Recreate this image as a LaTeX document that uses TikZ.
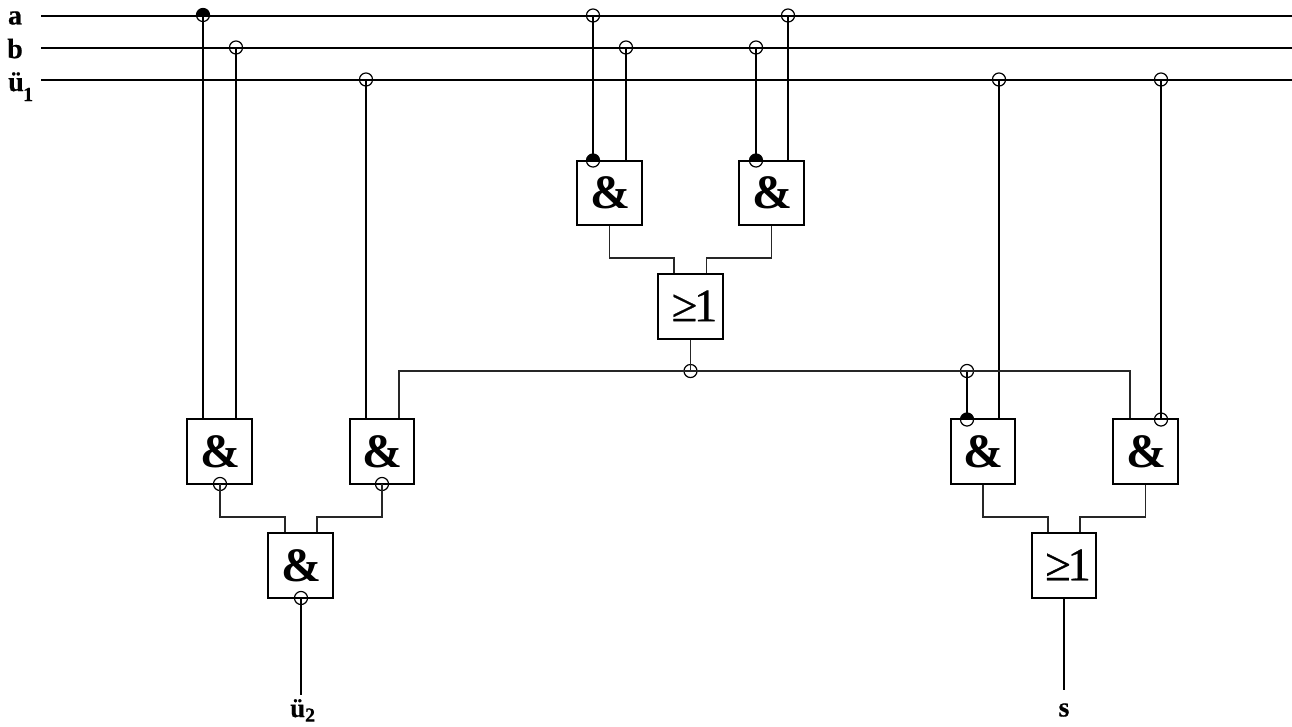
\documentclass[tikz,border=0pt]{standalone}
\usepackage{fontspec}
\setmainfont{Liberation Serif}
\newfontfamily\heavyserif[FakeBold=0.6]{Liberation Serif}
\newfontfamily\heavybold[FakeBold=0.5]{Liberation Serif Bold}
\newcommand{\ampsign}{\raisebox{-1.5pt}{\kern1pt\fontsize{36}{36}\selectfont\&}}
\newcommand{\geone}{\raisebox{1pt}{\kern6pt\heavyserif\fontsize{35}{35}\selectfont ≥\kern-2.5pt 1}}
\tikzset{
  thickw/.style={line width=1.5pt,black},
  thinw/.style={line width=1pt,black!85},
  gate/.style={draw,line width=1.4pt,rectangle,minimum width=48.6pt,minimum height=48.6pt,inner sep=0pt,font=\bfseries},
  orgate/.style={gate,font=\normalfont},
  inv/.style={draw,circle,line width=0.9pt,minimum size=9.8pt,inner sep=0pt},
  halfinv/.style={inv,path picture={\fill[black] (path picture bounding box.west) rectangle (path picture bounding box.north east);}},
  lbl/.style={font=\heavybold\fontsize{21}{21}\selectfont,inner sep=0pt}
}
\begin{document}
\begin{tikzpicture}[x=0.75pt,y=-0.75pt]
\useasboundingbox (0,0) rectangle (1292,726);
% gates
\node[gate] (g1) at (609.5,193) {\ampsign};
\node[gate] (g2) at (771.5,193) {\ampsign};
\node[orgate] (o1) at (690.5,306.5) {\geone};
\node[gate] (g3) at (219.5,451.5) {\ampsign};
\node[gate] (g4) at (382,451.5) {\ampsign};
\node[gate] (g5) at (300.5,565.5) {\ampsign};
\node[gate] (g6) at (983,451.5) {\ampsign};
\node[gate] (g7) at (1145.5,451.5) {\ampsign};
\node[orgate] (o2) at (1064,565.5) {\geone};
% bus ends
\coordinate (aL) at (41,15.5); \coordinate (aR) at (1292,15.5);
\coordinate (bL) at (41,47.5); \coordinate (bR) at (1292,47.5);
\coordinate (uL) at (41,79.5); \coordinate (uR) at (1292,79.5);
\draw[thickw] (aL) -- (aR);
\draw[thickw] (bL) -- (bR);
\draw[thickw] (uL) -- (uR);
% bus junctions
\node[halfinv] (ja1) at (203,15) {};
\node[inv] (jb1) at (236,47.5) {};
\node[inv] (ju1) at (366,79.5) {};
\node[inv] (ja2) at (593,15.5) {};
\node[inv] (jb2) at (626,47.5) {};
\node[inv] (jb3) at (756,47.5) {};
\node[inv] (ja3) at (788,15.5) {};
\node[inv] (ju2) at (999,79.5) {};
\node[inv] (ju3) at (1161,79.5) {};
% inputs with bubbles
\node[halfinv] (i1) at (593,160.5) {};
\node[halfinv] (i2) at (756,160.5) {};
\node[halfinv] (i6) at (967,419.5) {};
\node[inv] (i7) at (1161,419.5) {};
\node[inv] (n3) at (220,484) {};
\node[inv] (n4) at (382,484) {};
\node[inv] (n5) at (301,598) {};
\node[inv] (jm) at (690.5,371) {};
\node[inv] (jm2) at (967,371) {};
% labels
\node[lbl] (la) at (15,18) {a};
\node[lbl] (lb) at (15,48.5) {b};
\node[lbl,anchor=base west] (lu) at (8,91) {ü\raisebox{-7.5pt}{\fontsize{15}{15}\selectfont\kern-0.5pt 1}};
\node[lbl,anchor=base west] (lu2) at (290,717) {\fontsize{20}{20}\selectfont ü\raisebox{-3.5pt}{\fontsize{15}{15}\selectfont 2}};
\node[lbl] (ls) at (1064,710) {s};
\coordinate (endu) at (301,695);
\coordinate (ends) at (1064,690);
% verticals
\draw[thickw] (ja1.center) -- (ja1.center |- g3.north);
\draw[thickw] (jb1.center) -- (jb1.center |- g3.north);
\draw[thickw] (ju1.center) -- (ju1.center |- g4.north);
\draw[thickw] (ja2.center) -- (i1.center);
\draw[thickw] (jb2.center) -- (jb2.center |- g1.north);
\draw[thickw] (jb3.center) -- (i2.center);
\draw[thickw] (ja3.center) -- (ja3.center |- g2.north);
\draw[thickw] (ju2.center) -- (ju2.center |- g6.north);
\draw[thickw] (ju3.center) -- (i7.center);
\draw[thickw] (jm2.center) -- (i6.center);
\draw[thickw] (n5.center) -- (endu);
\draw[thickw] (o2.south) -- (ends);
% gate-to-gate wiring
\draw[thinw] (g1.south) -- (g1.south |- 0,258) -- (674,258) -- (674,0 |- o1.north);
\draw[thinw] (g2.south) -- (g2.south |- 0,258) -- (706.5,258) -- (706.5,0 |- o1.north);
\draw[thinw] (n3.center) -- (220,517) -- (285,517) -- (285,0 |- g5.north);
\draw[thinw] (n4.center) -- (382,517) -- (317,517) -- (317,0 |- g5.north);
\draw[thinw] (g6.south) -- (983,517) -- (1048,517) -- (1048,0 |- o2.north);
\draw[thinw] (g7.south) -- (1145.5,517) -- (1080,517) -- (1080,0 |- o2.north);
\draw[thinw] (o1.south) -- (jm.center);
\draw[thinw] (399,0 |- g4.north) -- (399,371) -- (jm.center) -- (1130,371) -- (1130,0 |- g7.north);
\end{tikzpicture}
\end{document}
